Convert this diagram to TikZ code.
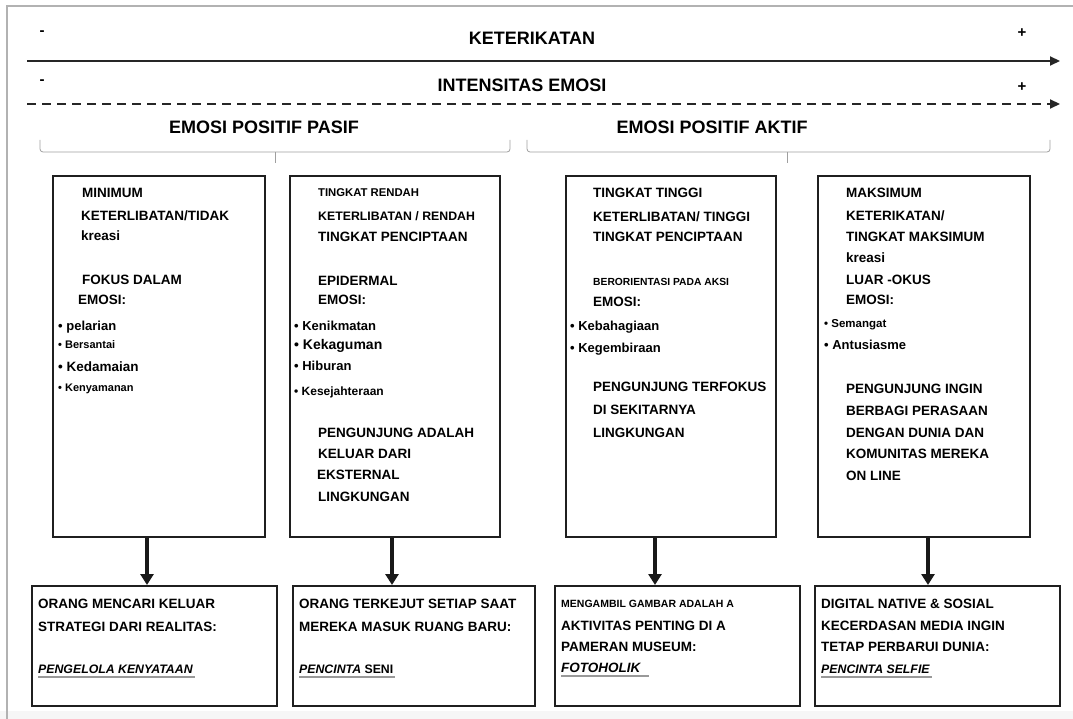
\documentclass[tikz,border=0pt]{standalone}
\usepackage{fontspec}
\setmainfont{Liberation Sans}
\usetikzlibrary{arrows.meta}
\newcommand\fs[1]{\fontsize{#1}{#1}\selectfont}
\begin{document}
\begin{tikzpicture}[x=1pt,y=-1pt,
  boxa/.style={draw=black!88, line width=2pt, inner sep=0pt, minimum height=361pt},
  boxb/.style={draw=black!88, line width=2pt, inner sep=0pt, minimum height=120pt, minimum width=245pt},
  tx/.style={anchor=base west, inner sep=0pt, font=\bfseries\fs{13.5}},
  hd/.style={inner sep=0pt, font=\bfseries\fs{18}},
  pm/.style={inner sep=0pt, font=\bfseries\fs{15}},
  arr/.style={-{Triangle[length=11pt,width=13pt]}, line width=3.2pt, black!90},
  axis/.style={-{Triangle[length=10pt,width=9pt]}, line width=2pt, black!85},
  brace/.style={draw=gray!75, line width=0.8pt, rounded corners=3pt},
  ul/.style={draw=gray!80, line width=2.2pt}]
\useasboundingbox (0,0) rectangle (1073,719);
\fill[gray!7] (0,711) rectangle (1073,719);
\draw[gray!60, line width=1.3pt] (7,719) -- (7,6) -- (1073,6);

% axes
\node[pm] (m1) at (42,33) {-};
\node[hd] (h1) at (532,38) {KETERIKATAN};
\node[pm] (p1) at (1022,33) {+};
\coordinate (a1s) at (27,61);
\coordinate (a1e) at (1060,61);
\draw[axis] (a1s) -- (a1e);
\node[pm] (m2) at (42,82) {-};
\node[hd] (h2) at (522,85) {INTENSITAS EMOSI};
\node[pm] (p2) at (1022,87) {+};
\coordinate (a2s) at (27,104);
\coordinate (a2e) at (1060,104);
\draw[axis, dash pattern=on 9pt off 6pt] (a2s) -- (a2e);

\node[hd] (g1) at (264,127) {EMOSI POSITIF PASIF};
\node[hd] (g2) at (712,127) {EMOSI POSITIF AKTIF};
\draw[brace] (40,140) -- (40,152) -- (510,152) -- (510,140);
\draw[gray!75, line width=0.8pt] (275,152) -- (275,163);
\draw[brace] (527,140) -- (527,152) -- (1050,152) -- (1050,140);
\draw[gray!75, line width=0.8pt] (787,152) -- (787,163);

% top boxes
\node[boxa, minimum width=212pt] (t1) at (159,356.5) {};
\node[boxa, minimum width=210pt] (t2) at (395,356.5) {};
\node[boxa, minimum width=210pt] (t3) at (671,356.5) {};
\node[boxa, minimum width=212pt] (t4) at (924,356.5) {};

% box 1 text
\node[tx] (t1a) at (82,198) {MINIMUM};
\node[tx] (t1b) at (81,221) {KETERLIBATAN/TIDAK};
\node[tx] (t1c) at (81,241) {kreasi};
\node[tx] (t1d) at (82,284) {FOKUS DALAM};
\node[tx] (t1e) at (78,305) {EMOSI:};
\node[tx, font=\bfseries\fs{13}] (t1f) at (58,330) {• pelarian};
\node[tx, font=\bfseries\fs{11}] (t1g) at (58,348) {• Bersantai};
\node[tx, font=\bfseries\fs{13.5}] (t1h) at (58,371) {• Kedamaian};
\node[tx, font=\bfseries\fs{11}] (t1i) at (58,391) {• Kenyamanan};

% box 2 text
\node[tx, font=\bfseries\fs{11.3}] (t2a) at (318,197) {TINGKAT RENDAH};
\node[tx, font=\bfseries\fs{12.3}] (t2b) at (318,221) {KETERLIBATAN / RENDAH};
\node[tx] (t2c) at (318,242) {TINGKAT PENCIPTAAN};
\node[tx] (t2d) at (318,285) {EPIDERMAL};
\node[tx] (t2e) at (318,305) {EMOSI:};
\node[tx, font=\bfseries\fs{13}] (t2f) at (294,330) {• Kenikmatan};
\node[tx, font=\bfseries\fs{14}] (t2g) at (294,349) {• Kekaguman};
\node[tx, font=\bfseries\fs{13}] (t2h) at (294,370) {• Hiburan};
\node[tx, font=\bfseries\fs{12}] (t2i) at (294,395) {• Kesejahteraan};
\node[tx] (t2j) at (318,437) {PENGUNJUNG ADALAH};
\node[tx] (t2k) at (318,458) {KELUAR DARI};
\node[tx] (t2l) at (317,479) {EKSTERNAL};
\node[tx] (t2m) at (318,501) {LINGKUNGAN};

% box 3 text
\node[tx] (t3a) at (593,198) {TINGKAT TINGGI};
\node[tx] (t3b) at (593,222) {KETERLIBATAN/ TINGGI};
\node[tx] (t3c) at (593,242) {TINGKAT PENCIPTAAN};
\node[tx, font=\bfseries\fs{10.3}] (t3d) at (593,285) {BERORIENTASI PADA AKSI};
\node[tx] (t3e) at (593,306) {EMOSI:};
\node[tx, font=\bfseries\fs{13}] (t3f) at (570,330) {• Kebahagiaan};
\node[tx, font=\bfseries\fs{13}] (t3g) at (570,352) {• Kegembiraan};
\node[tx] (t3h) at (593,391) {PENGUNJUNG TERFOKUS};
\node[tx] (t3i) at (593,414) {DI SEKITARNYA};
\node[tx] (t3j) at (593,437) {LINGKUNGAN};

% box 4 text
\node[tx] (t4a) at (846,198) {MAKSIMUM};
\node[tx] (t4b) at (846,221) {KETERIKATAN/};
\node[tx] (t4c) at (846,242) {TINGKAT MAKSIMUM};
\node[tx] (t4d) at (846,263) {kreasi};
\node[tx] (t4e) at (846,284) {LUAR -OKUS};
\node[tx] (t4f) at (846,305) {EMOSI:};
\node[tx, font=\bfseries\fs{11.5}] (t4g) at (824,327) {• Semangat};
\node[tx, font=\bfseries\fs{13}] (t4h) at (824,349) {• Antusiasme};
\node[tx] (t4i) at (846,393) {PENGUNJUNG INGIN};
\node[tx] (t4j) at (846,415) {BERBAGI PERASAAN};
\node[tx] (t4k) at (846,437) {DENGAN DUNIA DAN};
\node[tx] (t4l) at (846,458) {KOMUNITAS MEREKA};
\node[tx] (t4m) at (846,480) {ON LINE};

% bottom boxes
\node[boxb] (b1) at (154.5,646) {};
\node[boxb, minimum width=242pt] (b2) at (414,646) {};
\node[boxb] (b3) at (677.5,646) {};
\node[boxb] (b4) at (937.5,646) {};

\node[tx] (b1a) at (38,608) {ORANG MENCARI KELUAR};
\node[tx] (b1b) at (38,631) {STRATEGI DARI REALITAS:};
\node[tx, font=\bfseries\itshape\fs{12.3}] (b1c) at (38,673) {PENGELOLA KENYATAAN};
\draw[ul] ([yshift=-4pt]b1c.base west) -- ([xshift=2pt,yshift=-4pt]b1c.base east);

\node[tx] (b2a) at (299,608) {ORANG TERKEJUT SETIAP SAAT};
\node[tx] (b2b) at (299,631) {MEREKA MASUK RUANG BARU:};
\node[tx, font=\bfseries\fs{12.3}] (b2c) at (299,673) {\textit{PENCINTA} SENI};
\draw[ul] ([yshift=-4pt]b2c.base west) -- ([xshift=2pt,yshift=-4pt]b2c.base east);

\node[tx, font=\bfseries\fs{10.5}] (b3a) at (561,607) {MENGAMBIL GAMBAR ADALAH A};
\node[tx] (b3b) at (561,630) {AKTIVITAS PENTING DI A};
\node[tx] (b3c) at (561,651) {PAMERAN MUSEUM:};
\node[tx, font=\bfseries\itshape\fs{13.5}] (b3d) at (561,672) {FOTOHOLIK};
\draw[ul] ([yshift=-4pt]b3d.base west) -- ([xshift=8pt,yshift=-4pt]b3d.base east);

\node[tx] (b4a) at (821,608) {DIGITAL NATIVE \& SOSIAL};
\node[tx] (b4b) at (821,630) {KECERDASAN MEDIA INGIN};
\node[tx] (b4c) at (821,651) {TETAP PERBARUI DUNIA:};
\node[tx, font=\bfseries\itshape\fs{12.3}] (b4d) at (821,673) {PENCINTA SELFIE};
\draw[ul] ([yshift=-4pt]b4d.base west) -- ([xshift=2pt,yshift=-4pt]b4d.base east);

% arrows
\coordinate (x1) at (147,0);
\coordinate (x2) at (392,0);
\coordinate (x3) at (655,0);
\coordinate (x4) at (928,0);
\draw[arr] (t1.south -| x1) -- (b1.north -| x1);
\draw[arr] (t2.south -| x2) -- (b2.north -| x2);
\draw[arr] (t3.south -| x3) -- (b3.north -| x3);
\draw[arr] (t4.south -| x4) -- (b4.north -| x4);
\end{tikzpicture}
\end{document}
